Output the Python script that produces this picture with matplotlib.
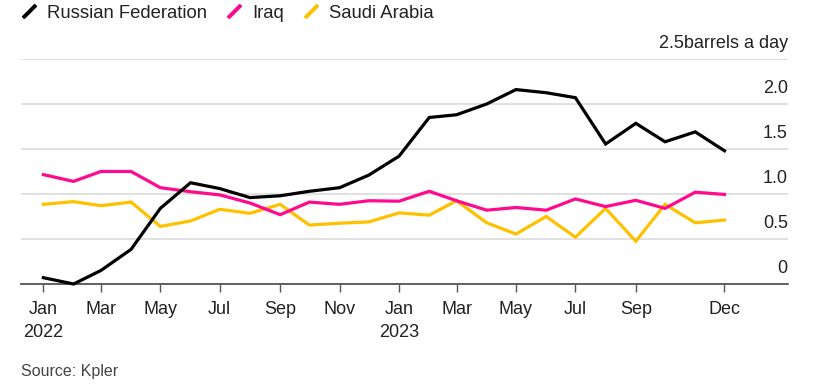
import matplotlib
matplotlib.use("Agg")
from matplotlib import pyplot as plt
from matplotlib.lines import Line2D
import matplotlib.dates as mdates
import matplotlib.transforms as mtransforms
import pandas as pd

plt.rcParams['font.family'] = ['Liberation Sans', 'DejaVu Sans']

months = pd.date_range("2022-01-01", "2023-12-01", freq="MS")

russia = [0.07, 0.00, 0.15, 0.385, 0.84, 1.125, 1.06, 0.96, 0.98, 1.03, 1.07, 1.21,
          1.42, 1.85, 1.88, 2.00, 2.16, 2.125, 2.07, 1.555, 1.785, 1.58, 1.69, 1.48]
iraq = [1.215, 1.14, 1.25, 1.25, 1.07, 1.025, 0.99, 0.90, 0.77, 0.91, 0.885, 0.925,
        0.92, 1.03, 0.925, 0.82, 0.85, 0.82, 0.945, 0.86, 0.93, 0.84, 1.02, 0.995]
saudi = [0.885, 0.915, 0.87, 0.91, 0.64, 0.70, 0.83, 0.785, 0.885, 0.655, 0.675, 0.69,
         0.79, 0.765, 0.925, 0.68, 0.555, 0.75, 0.52, 0.84, 0.475, 0.885, 0.68, 0.71]

series = [("Russian Federation", russia, "#000000"),
          ("Iraq", iraq, "#ff0a8f"),
          ("Saudi Arabia", saudi, "#ffc000")]

x_ticks = ["2022-01-01", "2022-03-01", "2022-05-01", "2022-07-01", "2022-09-01",
           "2022-11-01", "2023-01-01", "2023-03-01", "2023-05-01", "2023-07-01",
           "2023-09-01", "2023-12-01"]
x_labels = ["Jan\n2022", "Mar", "May", "Jul", "Sep", "Nov",
            "Jan\n2023", "Mar", "May", "Jul", "Sep", "Dec"]
y_ticks = [0, 0.5, 1.0, 1.5, 2.0, 2.5]
y_labels = ["0", "0.5", "1.0", "1.5", "2.0", "2.5barrels a day"]

fig = plt.figure(figsize=(8.39, 3.9), dpi=100)
ax = fig.add_axes([0.025, 0.2718, 0.914, 0.577])

for name, vals, color in series[::-1]:
    ax.plot(months, vals, color=color, lw=2.3, solid_joinstyle='miter',
            clip_on=False, zorder=3)

ax.set_xlim(pd.Timestamp("2021-12-09"), pd.Timestamp("2024-02-04"))
ax.set_ylim(0, 2.5)

ax.set_xticks([mdates.date2num(pd.Timestamp(d)) for d in x_ticks])
ax.set_xticklabels(x_labels, fontsize=13, color="#222222", linespacing=1.45)
ax.tick_params(axis='x', length=6, width=1, color="#555555", pad=6)

ax.yaxis.tick_right()
ax.set_yticks(y_ticks)
ax.set_yticklabels(y_labels, fontsize=13, color="#222222")
ax.tick_params(axis='y', length=0, pad=0)
offset = mtransforms.ScaledTranslation(0, 17 / 100, fig.dpi_scale_trans)
for lab in ax.get_yticklabels():
    lab.set_ha('right')
    lab.set_transform(lab.get_transform() + offset)

ax.grid(axis='y', color="#dcdcdc", lw=1.2)
ax.set_axisbelow(True)
for side in ['top', 'right', 'left']:
    ax.spines[side].set_visible(False)
ax.spines['bottom'].set_color("#555555")
ax.spines['bottom'].set_linewidth(1.3)

# legend with short slanted strokes like the original
handles = [Line2D([], [], color=c, marker=(2, 2, -45), linestyle='None',
                  markersize=13, markeredgewidth=2.6) for _, _, c in series]
fig.legend(handles, [n for n, _, _ in series], loc='upper left',
           bbox_to_anchor=(0.004, 1.03), ncol=3, frameon=False, fontsize=13.3,
           handlelength=1.0, handletextpad=0.45, columnspacing=1.0,
           labelcolor="#222222")

fig.text(0.025, 0.035, "Source: Kpler", fontsize=11.5, color="#444444")

fig.savefig("out.png", dpi=100)
